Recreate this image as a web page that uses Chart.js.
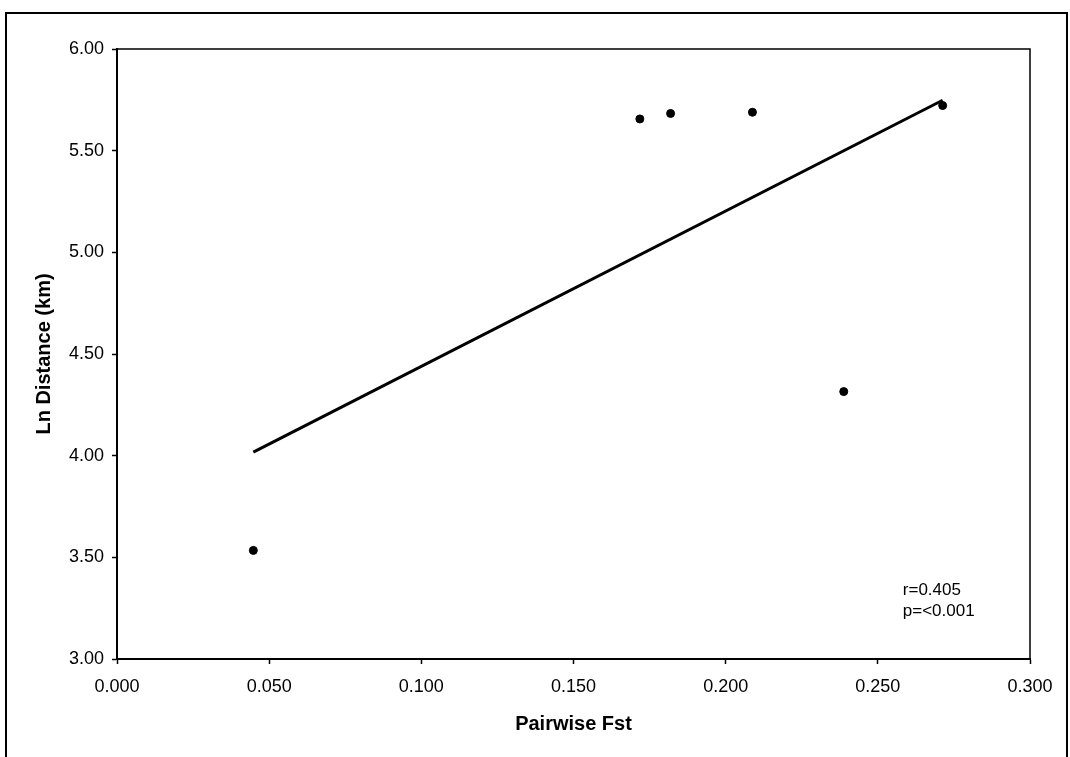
<!DOCTYPE html>
<html>
<head>
<meta charset="utf-8">
<script src="https://cdn.jsdelivr.net/npm/chart.js@4"></script>
<style>
  body { margin: 0; background: #fff; }
  #wrap { position: relative; width: 1070px; height: 757px; overflow: hidden; }
  #frame { position: absolute; left: 5px; top: 12px; width: 1059px; height: 800px; border: 2px solid #000; pointer-events: none; }
  canvas { position: absolute; left: 0; top: 0; }
</style>
</head>
<body>
<div id="wrap">
  <canvas id="chart" width="1070" height="757"></canvas>
  <div id="frame"></div>
</div>
<script>
// points
const fst = [0.0448, 0.1718, 0.1819, 0.2088, 0.2388, 0.2713];
const lnDist = [3.534, 5.656, 5.683, 5.689, 4.315, 5.722];
// regression line ends
const trendX = [0.0448, 0.2713];
const trendY = [4.017, 5.748];
const statsText = ['r=0.405', 'p=<0.001'];
const statsPos = [[0.2582, 3.338], [0.2582, 3.235]];

const FONT = '"Liberation Sans", Arial, sans-serif';

const frameBox = {
  id: 'frameBox',
  afterDraw(chart) {
    const { ctx, chartArea: a, scales } = chart;
    ctx.save();
    ctx.strokeStyle = '#000';
    ctx.lineWidth = 1.5;
    ctx.beginPath();
    ctx.moveTo(a.left, a.top);
    ctx.lineTo(a.right, a.top);
    ctx.lineTo(a.right, a.bottom);
    ctx.stroke();
    // r / p note
    ctx.fillStyle = '#000';
    ctx.font = '17px ' + FONT;
    ctx.textBaseline = 'middle';
    statsText.forEach((t, i) => {
      ctx.fillText(t, scales.x.getPixelForValue(statsPos[i][0]), scales.y.getPixelForValue(statsPos[i][1]));
    });
    ctx.restore();
  }
};

const ctx = document.getElementById('chart').getContext('2d');
new Chart(ctx, {
  type: 'scatter',
  data: {
    datasets: [{
      data: fst.map((x, i) => ({ x: x, y: lnDist[i] })),
      backgroundColor: '#000',
      borderColor: '#000',
      pointRadius: 4,
      pointHoverRadius: 4
    }, {
      data: trendX.map((x, i) => ({ x: x, y: trendY[i] })),
      showLine: true,
      borderColor: '#000',
      borderWidth: 3,
      pointRadius: 0,
      fill: false
    }]
  },
  options: {
    responsive: false,
    animation: false,
    layout: { padding: { left: 0, top: 49, right: 40, bottom: 0 } },
    plugins: { legend: { display: false }, tooltip: { enabled: false } },
    scales: {
      x: {
        type: 'linear',
        min: 0,
        max: 0.3,
        afterFit: (s) => { s.height = 98; },
        ticks: {
          stepSize: 0.05,
          padding: 12,
          color: '#000',
          font: { family: FONT, size: 18 },
          callback: (v) => v.toFixed(3)
        },
        grid: { drawOnChartArea: false, drawTicks: true, tickLength: 5, tickWidth: 1.5, tickColor: '#000' },
        border: { color: '#000', width: 2 },
        title: {
          display: true,
          text: 'Pairwise Fst',
          color: '#000',
          font: { family: FONT, size: 20, weight: 'bold' },
          padding: { top: 0, bottom: 21 }
        }
      },
      y: {
        type: 'linear',
        min: 3,
        max: 6,
        afterFit: (s) => { s.width = 117; },
        ticks: {
          stepSize: 0.5,
          padding: 8,
          color: '#000',
          font: { family: FONT, size: 18 },
          callback: (v) => v.toFixed(2)
        },
        grid: { drawOnChartArea: false, drawTicks: true, tickLength: 5, tickWidth: 1.5, tickColor: '#000' },
        border: { color: '#000', width: 2 },
        title: {
          display: true,
          text: 'Ln Distance (km)',
          color: '#000',
          font: { family: FONT, size: 20, weight: 'bold' },
          padding: { top: 32, bottom: 0 }
        }
      }
    }
  },
  plugins: [frameBox]
});
</script>
</body>
</html>
